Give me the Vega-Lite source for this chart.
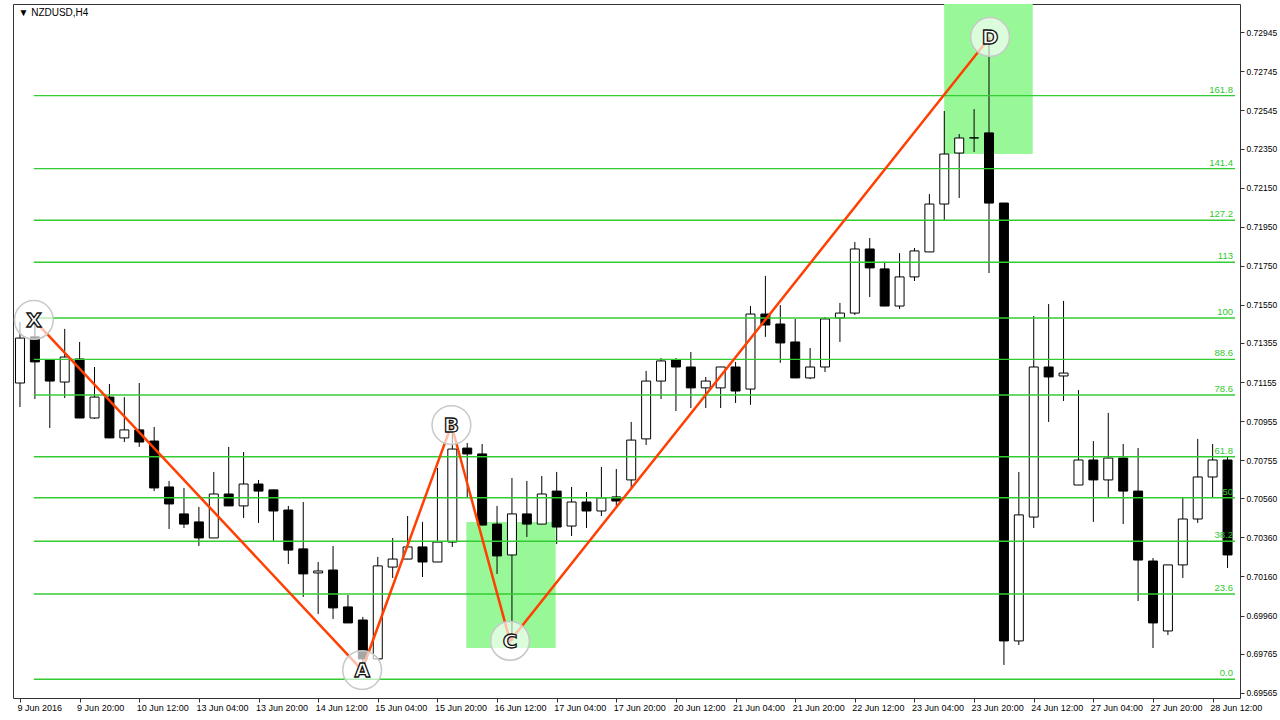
{
  "$schema": "https://vega.github.io/schema/vega-lite/v6.json",
  "width": 1227,
  "height": 694,
  "autosize": "none",
  "padding": {"left": 13, "top": 4, "right": 40, "bottom": 22},
  "background": "white",
  "config": {"view": {"stroke": "#333", "strokeWidth": 1}},
  "datasets": {
    "candles": [
      {"i":0,"o":0.71150,"h":0.71462,"l":0.71027,"c":0.71380},
      {"i":1,"o":0.71386,"h":0.71483,"l":0.71068,"c":0.71258},
      {"i":2,"o":0.71268,"h":0.71270,"l":0.70920,"c":0.71160},
      {"i":3,"o":0.71155,"h":0.71427,"l":0.71073,"c":0.71283},
      {"i":4,"o":0.71273,"h":0.71360,"l":0.70970,"c":0.70971},
      {"i":5,"o":0.70971,"h":0.71232,"l":0.70966,"c":0.71078},
      {"i":6,"o":0.71078,"h":0.71145,"l":0.70868,"c":0.70869},
      {"i":7,"o":0.70869,"h":0.71078,"l":0.70848,"c":0.70910},
      {"i":8,"o":0.70910,"h":0.71150,"l":0.70823,"c":0.70848},
      {"i":9,"o":0.70853,"h":0.70925,"l":0.70597,"c":0.70613},
      {"i":10,"o":0.70618,"h":0.70649,"l":0.70403,"c":0.70531},
      {"i":11,"o":0.70480,"h":0.70613,"l":0.70408,"c":0.70428},
      {"i":12,"o":0.70439,"h":0.70516,"l":0.70316,"c":0.70357},
      {"i":13,"o":0.70357,"h":0.70695,"l":0.70356,"c":0.70582},
      {"i":14,"o":0.70582,"h":0.70823,"l":0.70520,"c":0.70521},
      {"i":15,"o":0.70521,"h":0.70797,"l":0.70459,"c":0.70633},
      {"i":16,"o":0.70633,"h":0.70654,"l":0.70434,"c":0.70597},
      {"i":17,"o":0.70603,"h":0.70605,"l":0.70342,"c":0.70495},
      {"i":18,"o":0.70500,"h":0.70521,"l":0.70224,"c":0.70295},
      {"i":19,"o":0.70301,"h":0.70541,"l":0.70055,"c":0.70173},
      {"i":20,"o":0.70178,"h":0.70234,"l":0.69968,"c":0.70188},
      {"i":21,"o":0.70193,"h":0.70316,"l":0.69942,"c":0.69999},
      {"i":22,"o":0.70004,"h":0.70065,"l":0.69922,"c":0.69922},
      {"i":23,"o":0.69937,"h":0.69953,"l":0.69690,"c":0.69738},
      {"i":24,"o":0.69738,"h":0.70260,"l":0.69737,"c":0.70214},
      {"i":25,"o":0.70208,"h":0.70357,"l":0.70152,"c":0.70249},
      {"i":26,"o":0.70249,"h":0.70469,"l":0.70248,"c":0.70311},
      {"i":27,"o":0.70311,"h":0.70439,"l":0.70157,"c":0.70234},
      {"i":28,"o":0.70234,"h":0.70715,"l":0.70233,"c":0.70336},
      {"i":29,"o":0.70336,"h":0.70935,"l":0.70311,"c":0.70812},
      {"i":30,"o":0.70817,"h":0.70843,"l":0.70562,"c":0.70787},
      {"i":31,"o":0.70787,"h":0.70838,"l":0.70422,"c":0.70423},
      {"i":32,"o":0.70428,"h":0.70521,"l":0.70173,"c":0.70265},
      {"i":33,"o":0.70270,"h":0.70664,"l":0.69830,"c":0.70480},
      {"i":34,"o":0.70480,"h":0.70649,"l":0.70362,"c":0.70428},
      {"i":35,"o":0.70428,"h":0.70674,"l":0.70427,"c":0.70582},
      {"i":36,"o":0.70597,"h":0.70695,"l":0.70326,"c":0.70413},
      {"i":37,"o":0.70418,"h":0.70618,"l":0.70367,"c":0.70541},
      {"i":38,"o":0.70541,"h":0.70592,"l":0.70408,"c":0.70495},
      {"i":39,"o":0.70495,"h":0.70720,"l":0.70469,"c":0.70562},
      {"i":40,"o":0.70567,"h":0.70710,"l":0.70521,"c":0.70546},
      {"i":41,"o":0.70654,"h":0.70951,"l":0.70608,"c":0.70858},
      {"i":42,"o":0.70864,"h":0.71212,"l":0.70833,"c":0.71160},
      {"i":43,"o":0.71160,"h":0.71278,"l":0.71068,"c":0.71263},
      {"i":44,"o":0.71268,"h":0.71278,"l":0.71007,"c":0.71232},
      {"i":45,"o":0.71232,"h":0.71309,"l":0.71022,"c":0.71125},
      {"i":46,"o":0.71125,"h":0.71181,"l":0.71022,"c":0.71160},
      {"i":47,"o":0.71125,"h":0.71233,"l":0.71022,"c":0.71232},
      {"i":48,"o":0.71232,"h":0.71258,"l":0.71048,"c":0.71109},
      {"i":49,"o":0.71119,"h":0.71544,"l":0.71038,"c":0.71503},
      {"i":50,"o":0.71503,"h":0.71698,"l":0.71386,"c":0.71447},
      {"i":51,"o":0.71452,"h":0.71549,"l":0.71253,"c":0.71355},
      {"i":52,"o":0.71360,"h":0.71478,"l":0.71175,"c":0.71176},
      {"i":53,"o":0.71176,"h":0.71329,"l":0.71170,"c":0.71232},
      {"i":54,"o":0.71232,"h":0.71488,"l":0.71206,"c":0.71478},
      {"i":55,"o":0.71483,"h":0.71560,"l":0.71360,"c":0.71508},
      {"i":56,"o":0.71508,"h":0.71872,"l":0.71498,"c":0.71836},
      {"i":57,"o":0.71836,"h":0.71892,"l":0.71590,"c":0.71739},
      {"i":58,"o":0.71734,"h":0.71769,"l":0.71543,"c":0.71544},
      {"i":59,"o":0.71544,"h":0.71815,"l":0.71529,"c":0.71693},
      {"i":60,"o":0.71693,"h":0.71841,"l":0.71672,"c":0.71826},
      {"i":61,"o":0.71821,"h":0.72117,"l":0.71820,"c":0.72066},
      {"i":62,"o":0.72066,"h":0.72542,"l":0.71984,"c":0.72322},
      {"i":63,"o":0.72327,"h":0.72424,"l":0.72097,"c":0.72404},
      {"i":64,"o":0.72404,"h":0.72552,"l":0.72332,"c":0.72405},
      {"i":65,"o":0.72430,"h":0.72916,"l":0.71713,"c":0.72071},
      {"i":66,"o":0.72071,"h":0.72072,"l":0.69707,"c":0.69830},
      {"i":67,"o":0.69830,"h":0.70695,"l":0.69809,"c":0.70475},
      {"i":68,"o":0.70464,"h":0.71493,"l":0.70408,"c":0.71232},
      {"i":69,"o":0.71232,"h":0.71554,"l":0.70951,"c":0.71181},
      {"i":70,"o":0.71186,"h":0.71570,"l":0.71058,"c":0.71201},
      {"i":71,"o":0.70628,"h":0.71114,"l":0.70627,"c":0.70756},
      {"i":72,"o":0.70756,"h":0.70853,"l":0.70439,"c":0.70654},
      {"i":73,"o":0.70654,"h":0.70997,"l":0.70562,"c":0.70766},
      {"i":74,"o":0.70766,"h":0.70838,"l":0.70428,"c":0.70597},
      {"i":75,"o":0.70597,"h":0.70817,"l":0.70034,"c":0.70244},
      {"i":76,"o":0.70239,"h":0.70254,"l":0.69794,"c":0.69922},
      {"i":77,"o":0.69881,"h":0.70220,"l":0.69860,"c":0.70219},
      {"i":78,"o":0.70219,"h":0.70567,"l":0.70152,"c":0.70454},
      {"i":79,"o":0.70454,"h":0.70864,"l":0.70434,"c":0.70669},
      {"i":80,"o":0.70669,"h":0.70838,"l":0.70562,"c":0.70756},
      {"i":81,"o":0.70756,"h":0.70771,"l":0.70203,"c":0.70270}
    ],
    "zones": [
      {"i":29.94,"i2":35.93,"p":0.70439,"p2":0.69794},
      {"i":61.99,"i2":67.93,"p":0.730898,"p2":0.72322}
    ],
    "fibo": [
      {"lvl":"0.0","p":0.69634},
      {"lvl":"23.6","p":0.70070},
      {"lvl":"38.2","p":0.70340},
      {"lvl":"50","p":0.70563},
      {"lvl":"61.8","p":0.70773},
      {"lvl":"78.6","p":0.71089},
      {"lvl":"88.6","p":0.71271},
      {"lvl":"100","p":0.71483},
      {"lvl":"113","p":0.71768},
      {"lvl":"127.2","p":0.71983},
      {"lvl":"141.4","p":0.72247},
      {"lvl":"161.8","p":0.72621}
    ],
    "pattern": [
      {"pt":"X","ord":0,"i":0.93,"p":0.71473},
      {"pt":"A","ord":1,"i":22.95,"p":0.69681},
      {"pt":"B","ord":2,"i":28.94,"p":0.70935},
      {"pt":"C","ord":3,"i":32.87,"p":0.69830},
      {"pt":"D","ord":4,"i":65.07,"p":0.72921}
    ],
    "caption": [
      {"txt":"▼ NZDUSD,H4","i":-0.1,"p":0.73042}
    ]
  },
  "layer": [
    {
      "data": {"name": "zones"},
      "mark": {"type": "rect", "color": "#98f898", "clip": true},
      "encoding": {
        "x": {"field": "i", "type": "quantitative", "scale": {"domain": [-0.133, 81.5], "nice": false, "zero": false}},
        "x2": {"field": "i2"},
        "y": {"field": "p", "type": "quantitative", "scale": {"domain": [0.695379, 0.730898], "nice": false, "zero": false}},
        "y2": {"field": "p2"}
      }
    },
    {
      "data": {"name": "candles"},
      "mark": {"type": "rule", "color": "#000", "strokeWidth": 1, "clip": true},
      "encoding": {
        "x": {
          "field": "i", "type": "quantitative",
          "scale": {"domain": [-0.133, 81.5], "nice": false, "zero": false},
          "axis": {
            "orient": "bottom", "title": null, "grid": false, "domain": false,
            "values": [0,4,8,12,16,20,24,28,32,36,40,44,48,52,56,60,64,68,72,76,80],
            "labelExpr": "['9 Jun 2016','9 Jun 20:00','10 Jun 12:00','13 Jun 04:00','13 Jun 20:00','14 Jun 12:00','15 Jun 04:00','15 Jun 20:00','16 Jun 12:00','17 Jun 04:00','17 Jun 20:00','20 Jun 12:00','21 Jun 04:00','21 Jun 20:00','22 Jun 12:00','23 Jun 04:00','23 Jun 20:00','24 Jun 12:00','27 Jun 04:00','27 Jun 20:00','28 Jun 12:00'][round(datum.value/4)]",
            "tickSize": 4, "tickColor": "#333", "labelAlign": "left", "labelBaseline": "top",
            "labelPadding": 1, "labelOffset": -3, "labelFont": "Liberation Sans", "labelFontSize": 9, "labelColor": "#000",
            "labelFlush": false, "labelOverlap": false, "labelBound": false
          }
        },
        "y": {
          "field": "l", "type": "quantitative",
          "scale": {"domain": [0.695379, 0.730898], "nice": false, "zero": false},
          "axis": {
            "orient": "right", "title": null, "grid": false, "domain": false,
            "values": [0.72945,0.72745,0.72545,0.72350,0.72150,0.71950,0.71750,0.71550,0.71355,0.71155,0.70955,0.70755,0.70560,0.70360,0.70160,0.69960,0.69765,0.69565],
            "format": ".5f", "tickSize": 4, "tickColor": "#333", "labelAlign": "left", "labelBaseline": "middle",
            "labelPadding": 2, "labelFont": "Liberation Sans", "labelFontSize": 8.5, "labelColor": "#000",
            "labelFlush": false, "labelOverlap": false, "labelBound": false
          }
        },
        "y2": {"field": "h"}
      }
    },
    {
      "data": {"name": "candles"},
      "mark": {"type": "bar", "size": 9, "stroke": "#000", "strokeWidth": 1, "clip": true},
      "encoding": {
        "x": {"field": "i", "type": "quantitative", "scale": {"domain": [-0.133, 81.5], "nice": false, "zero": false}},
        "y": {"field": "o", "type": "quantitative", "scale": {"domain": [0.695379, 0.730898], "nice": false, "zero": false}},
        "y2": {"field": "c"},
        "fill": {"condition": {"test": "datum.c > datum.o", "value": "#ffffff"}, "value": "#000000"}
      }
    },
    {
      "data": {"name": "fibo"},
      "mark": {"type": "rule", "color": "#33cc33", "strokeWidth": 1.4, "clip": true},
      "encoding": {
        "x": {"datum": 0.93, "type": "quantitative", "scale": {"domain": [-0.133, 81.5], "nice": false, "zero": false}},
        "x2": {"datum": 81.5},
        "y": {"field": "p", "type": "quantitative", "scale": {"domain": [0.695379, 0.730898], "nice": false, "zero": false}}
      }
    },
    {
      "data": {"name": "fibo"},
      "mark": {"type": "text", "align": "right", "baseline": "bottom", "dx": -2, "dy": -1, "font": "Liberation Sans", "fontSize": 9.5, "color": "#2fc82f"},
      "encoding": {
        "x": {"datum": 81.5, "type": "quantitative", "scale": {"domain": [-0.133, 81.5], "nice": false, "zero": false}},
        "y": {"field": "p", "type": "quantitative", "scale": {"domain": [0.695379, 0.730898], "nice": false, "zero": false}},
        "text": {"field": "lvl"}
      }
    },
    {
      "data": {"name": "pattern"},
      "mark": {"type": "line", "color": "#ff4000", "strokeWidth": 2.5},
      "encoding": {
        "x": {"field": "i", "type": "quantitative", "scale": {"domain": [-0.133, 81.5], "nice": false, "zero": false}},
        "y": {"field": "p", "type": "quantitative", "scale": {"domain": [0.695379, 0.730898], "nice": false, "zero": false}},
        "order": {"field": "ord"}
      }
    },
    {
      "data": {"name": "pattern"},
      "mark": {"type": "point", "shape": "circle", "size": 1500, "filled": true, "fill": "#ffffff", "fillOpacity": 0.65, "stroke": "#c8c8c8", "strokeWidth": 1.5, "opacity": 1},
      "encoding": {
        "x": {"field": "i", "type": "quantitative", "scale": {"domain": [-0.133, 81.5], "nice": false, "zero": false}},
        "y": {"field": "p", "type": "quantitative", "scale": {"domain": [0.695379, 0.730898], "nice": false, "zero": false}}
      }
    },
    {
      "data": {"name": "pattern"},
      "mark": {"type": "text", "font": "DejaVu Sans", "fontSize": 20, "fontWeight": "bold", "fill": "#ffffff", "stroke": "#111111", "strokeWidth": 1.3, "align": "center", "baseline": "middle", "dy": 1},
      "encoding": {
        "x": {"field": "i", "type": "quantitative", "scale": {"domain": [-0.133, 81.5], "nice": false, "zero": false}},
        "y": {"field": "p", "type": "quantitative", "scale": {"domain": [0.695379, 0.730898], "nice": false, "zero": false}},
        "text": {"field": "pt"}
      }
    },
    {
      "data": {"name": "caption"},
      "mark": {"type": "text", "font": "Liberation Sans", "fontSize": 10, "color": "#000", "align": "left", "baseline": "middle"},
      "encoding": {
        "x": {"field": "i", "type": "quantitative", "scale": {"domain": [-0.133, 81.5], "nice": false, "zero": false}},
        "y": {"field": "p", "type": "quantitative", "scale": {"domain": [0.695379, 0.730898], "nice": false, "zero": false}},
        "text": {"field": "txt"}
      }
    }
  ]
}
